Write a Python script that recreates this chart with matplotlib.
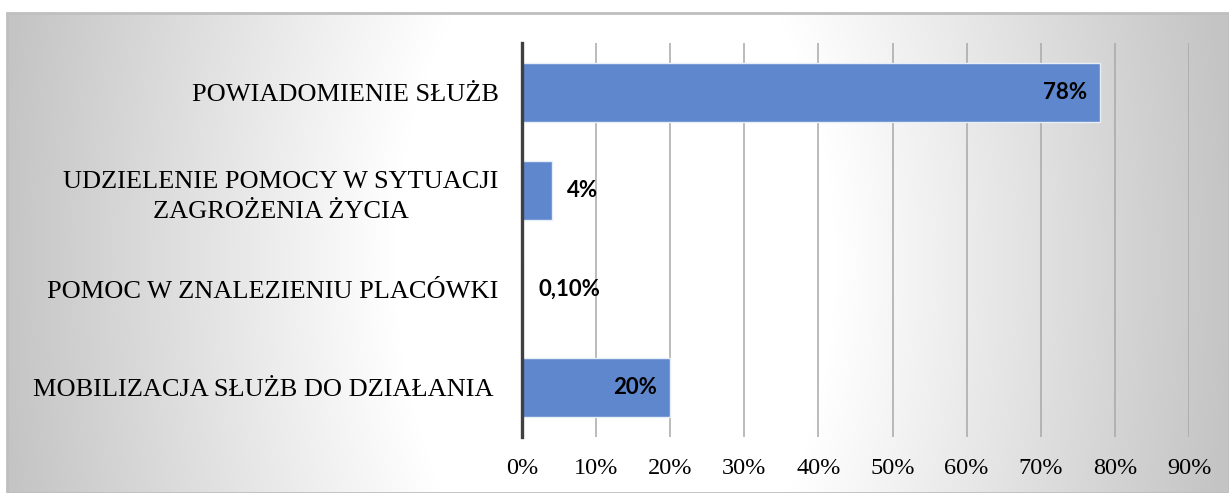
import numpy as np
import matplotlib
matplotlib.use("Agg")
import matplotlib.pyplot as plt
from matplotlib.patches import Rectangle
from matplotlib.ticker import FuncFormatter, MultipleLocator

categories = [
    "POWIADOMIENIE SŁUŻB",
    "UDZIELENIE POMOCY W SYTUACJI\nZAGROŻENIA ŻYCIA",
    "POMOC W ZNALEZIENIU PLACÓWKI",
    "MOBILIZACJA SŁUŻB DO DZIAŁANIA ",
]
values = [0.78, 0.04, 0.001, 0.20]
value_labels = ["78%", "4%", "0,10%", "20%"]
label_inside = [True, False, False, True]

W, H = 1229, 493
fig = plt.figure(figsize=(W / 100, H / 100), dpi=100)
fig.patch.set_facecolor("white")

# background radial gradient (chart area)
bx0, by_top = 7, 13
bg = fig.add_axes([bx0 / W, 0, 1 - bx0 / W, 1 - by_top / H], zorder=0)
gw, gh = W - bx0, H - by_top
yy, xx = np.mgrid[0:gh, 0:gw]
cx, cy = 608, 250
d = np.sqrt(((xx - cx) * 1.0) ** 2 + ((yy - cy) * 0.6) ** 2)
v = 255 - np.clip(d - 220, 0, None) * 0.148
v = np.clip(v, 196, 255) / 255.0
img = np.dstack([v, v, v])
bg.imshow(img, aspect="auto", extent=[0, gw, gh, 0], interpolation="bilinear")
bg.set_axis_off()
# frame
fig.patches.append(Rectangle((bx0 / W, 0), 1 - bx0 / W, 1 - by_top / H,
                             transform=fig.transFigure, fill=False,
                             edgecolor="#bfbfbf", lw=2, zorder=1))

left, right = 522 / W, 1189 / W
top, bottom = 1 - 43 / H, 1 - 437 / H
ax = fig.add_axes([left, bottom, right - left, top - bottom], zorder=2)
ax.set_facecolor("none")

y = np.arange(len(categories))
ax.barh(y, values, height=0.6, color="#5E87CE", edgecolor="#e8eef8", lw=1, zorder=3)
ax.set_xlim(0, 0.9)
ax.set_ylim(len(categories) - 0.5, -0.5)
ax.xaxis.set_major_locator(MultipleLocator(0.1))
ax.xaxis.set_major_formatter(FuncFormatter(lambda x, p: f"{x*100:.0f}%"))
ax.grid(axis="x", color="#a8a8a8", lw=1.1, zorder=1)
ax.set_axisbelow(True)
for s in ["top", "right", "bottom"]:
    ax.spines[s].set_visible(False)
ax.spines["left"].set_color("#404040")
ax.spines["left"].set_linewidth(2.4)
ax.spines["left"].set_zorder(5)
ax.tick_params(axis="both", length=0)
ax.tick_params(axis="x", pad=15)
ax.tick_params(axis="y", pad=17)
ax.set_yticks(y)
ax.set_yticklabels(categories, family="Liberation Serif", fontsize=19,
                   linespacing=1.45, multialignment="center")
for t in ax.get_xticklabels():
    t.set_family("Liberation Serif")
    t.set_fontsize(17.5)

for yi, val, lab, inside in zip(y, values, value_labels, label_inside):
    if inside:
        ax.annotate(lab, (val, yi), xytext=(-9.5, 0), textcoords="offset points",
                    ha="right", va="center", family="Lato", fontweight="bold",
                    fontsize=16, color="black", zorder=6)
    else:
        ax.annotate(lab, (val, yi), xytext=(11, 0), textcoords="offset points",
                    ha="left", va="center", family="Lato", fontweight="bold",
                    fontsize=16, color="black", zorder=6)

fig.savefig("out.png", dpi=100)
